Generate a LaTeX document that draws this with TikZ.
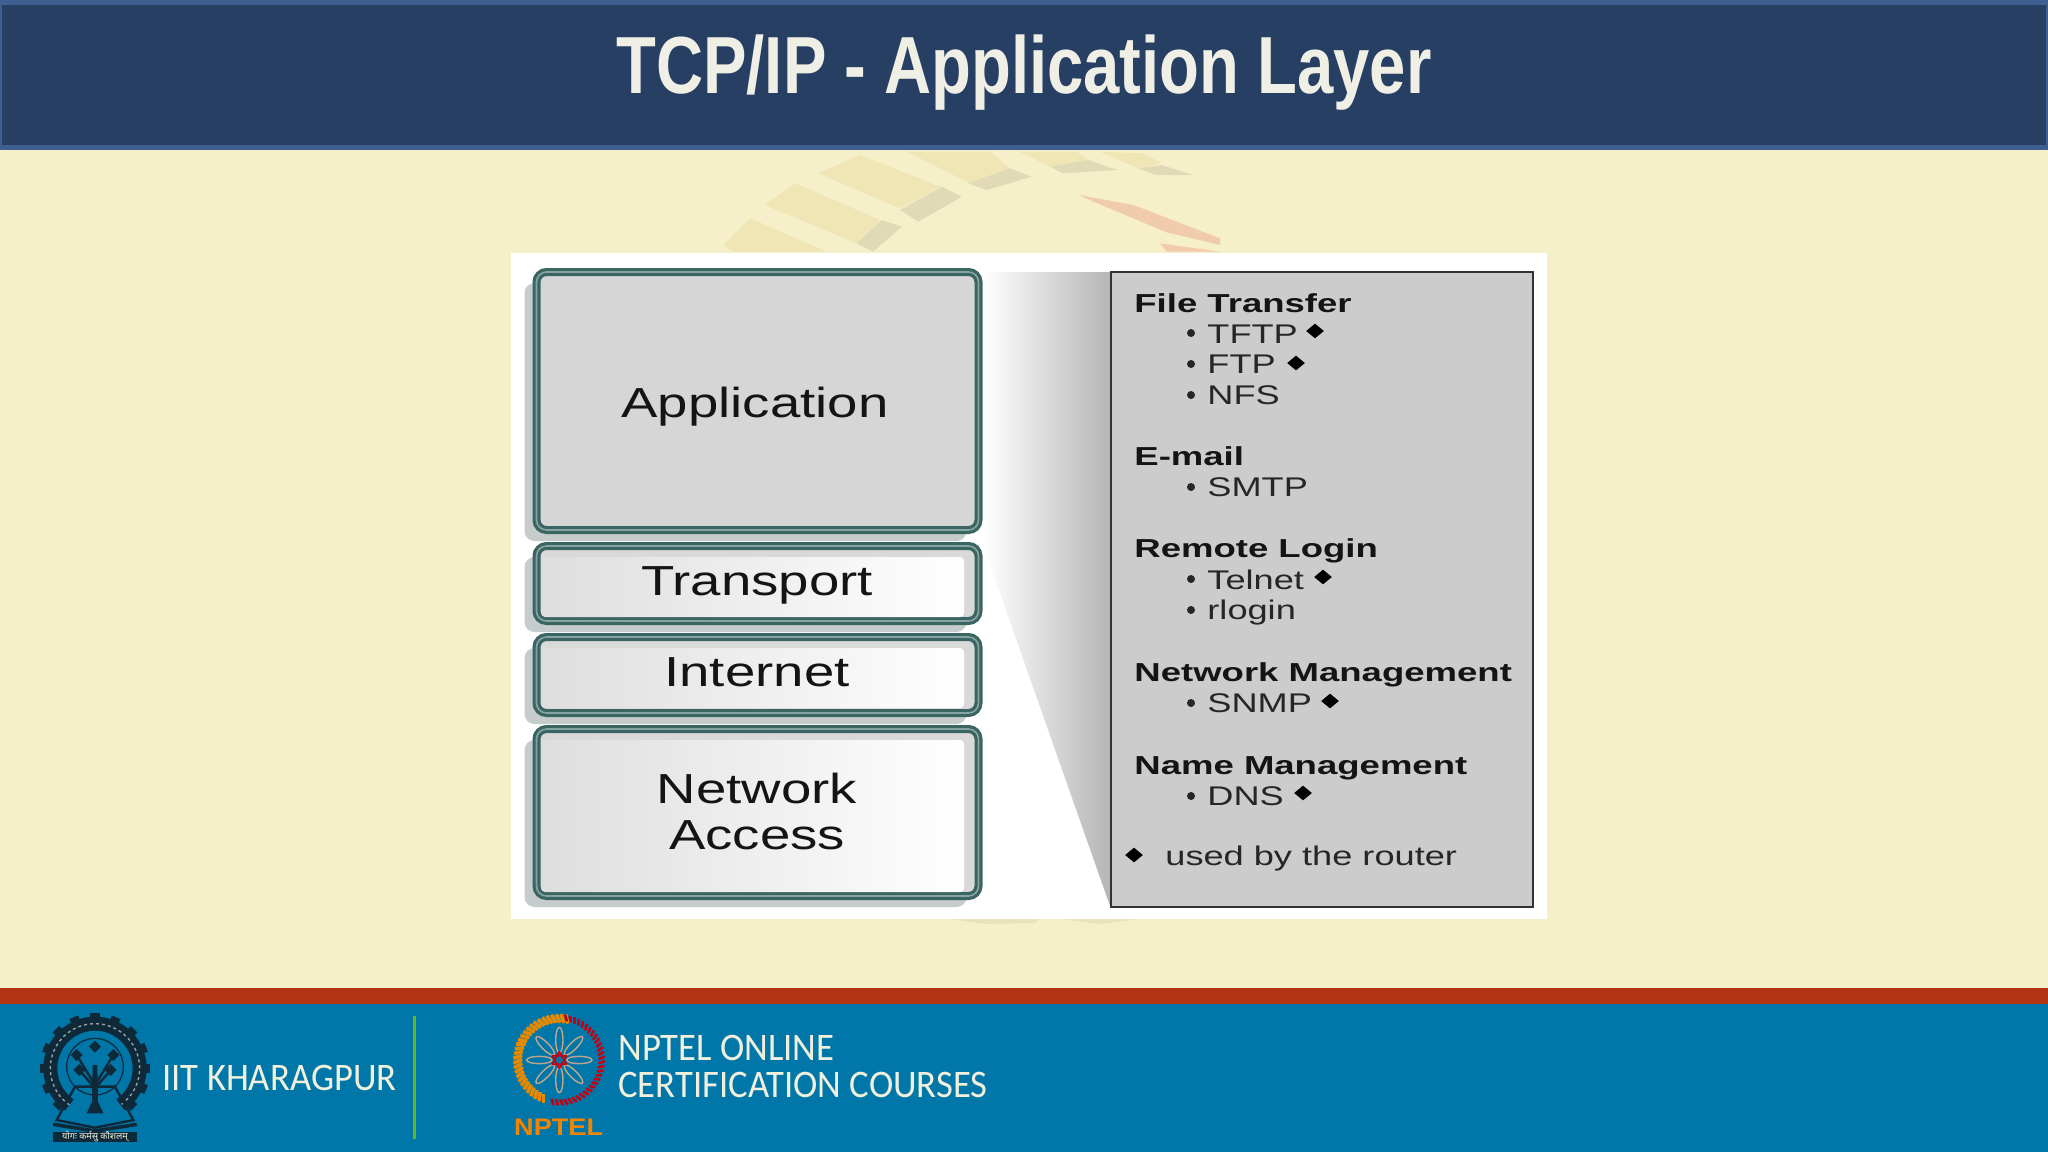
\documentclass[tikz,border=0pt]{standalone}
\usepackage{fontspec}
\usetikzlibrary{shapes.geometric,shadows}
\setmainfont{Liberation Sans}
\newfontfamily\titlefont[FakeStretch=0.805]{Liberation Sans}
\newfontfamily\layerfont[FakeStretch=1.30]{Liberation Sans}
\newfontfamily\listfont[FakeStretch=1.34]{Liberation Sans}
\newfontfamily\listbold[FakeStretch=1.405]{Liberation Sans Bold}
\newfontfamily\logobold[FakeStretch=1.13]{Liberation Sans Bold}
\newfontfamily\footfont[FakeStretch=0.94]{Carlito}
\newfontfamily\devfont[Script=Devanagari]{Noto Sans}
\definecolor{slidebg}{HTML}{F5F0C9}
\definecolor{headbg}{HTML}{263F63}
\definecolor{headedge}{HTML}{3D6090}
\definecolor{footred}{HTML}{B23412}
\definecolor{footblue}{HTML}{0077A8}
\definecolor{cream}{HTML}{F0F0DC}
\definecolor{titlecol}{HTML}{EFEFE6}
\definecolor{boxteal}{HTML}{3A6562}
\definecolor{boxmid}{HTML}{86A5A2}
\definecolor{boxshade}{HTML}{C6CBCB}
\definecolor{logodark}{HTML}{0E2A3A}
\definecolor{wmtan}{HTML}{F0E5B4}
\definecolor{wmgrey}{HTML}{E0DBB6}
\definecolor{wmsmudge}{HTML}{E8E3BC}
\definecolor{wmred}{HTML}{F0CBAC}
\tikzset{
  layerbox/.style={rectangle, rounded corners=5pt, draw=boxteal, line width=1.6pt, double=boxmid,
    double distance=.8pt, fill=#1, minimum width=221pt, inner sep=0pt,
    general shadow={fill=boxshade, shadow xshift=-6pt, shadow yshift=-5.5pt}},
  layerface/.style={rectangle, rounded corners=2pt, left color=gray!26, middle color=gray!6,
    right color=white, minimum width=211.5pt, inner sep=0pt},
  layertext/.style={font=\layerfont\fontsize{21}{23}\selectfont, text=black!92, inner sep=0pt, anchor=base, align=center},
  headtext/.style={font=\listbold\fontsize{13}{15}\selectfont, text=black!92, inner sep=0pt, anchor=base west},
  subtext/.style={font=\listfont\fontsize{13.5}{15}\selectfont, text=black!85, inner sep=0pt, anchor=base west},
  bulletmark/.style={circle, fill=black!85, inner sep=0pt, minimum size=4pt},
  routermark/.style={diamond, fill=black, inner sep=0pt, minimum width=9pt, minimum height=7.5pt},
  foottext/.style={font=\footfont\fontsize{19.5}{21}\selectfont, text=cream, inner sep=0pt, anchor=base west},
}
\begin{document}
\begin{tikzpicture}[x=.5pt,y=-.5pt]
  \useasboundingbox (0,0) rectangle (2048,1152);
  % slide background
  \fill[slidebg] (0,0) rectangle (2048,1152);

  % watermark behind the figure
  \begin{scope}[shift={(700,145)},scale=1/3]
    \fill[wmtan] (355,85) -- (480,30) -- (720,125) -- (600,190) -- cycle;
    \fill[wmgrey] (600,195) -- (725,125) -- (785,155) -- (655,230) -- cycle;
    \fill[wmtan] (195,180) -- (285,115) -- (540,225) -- (470,295) -- cycle;
    \fill[wmgrey] (470,295) -- (545,225) -- (605,245) -- (520,320) -- cycle;
    \fill[wmtan] (70,300) -- (150,220) -- (380,320) -- (100,320) -- cycle;
    \fill[wmtan] (620,20) -- (870,20) -- (930,70) -- (810,115) -- cycle;
    \fill[wmgrey] (805,115) -- (930,70) -- (995,95) -- (860,135) -- cycle;
    \fill[wmtan] (960,20) -- (1130,20) -- (1165,45) -- (1050,65) -- cycle;
    \fill[wmgrey] (1050,65) -- (1165,45) -- (1250,75) -- (1090,85) -- cycle;
    \fill[wmtan] (1200,20) -- (1330,25) -- (1385,55) -- (1315,70) -- cycle;
    \fill[wmgrey] (1315,70) -- (1385,60) -- (1480,90) -- (1370,90) -- cycle;
    \fill[wmred] (1135,150) -- (1300,180) -- (1560,280) -- (1560,300) -- (1400,262) -- (1240,195) -- cycle;
    \fill[wmred] (1380,295) -- (1560,320) -- (1400,320) -- cycle;
  \end{scope}
  \fill[wmsmudge] (950,919) -- (1040,919) -- (1035,923) -- (985,924) -- cycle;
  \fill[wmsmudge] (1060,919) -- (1140,919) -- (1100,924) -- cycle;

  % header and footer
  \fill[headedge] (0,0) rectangle (2048,150);
  \fill[headbg] (2,5) rectangle (2046,145);
  \node[font=\titlefont\bfseries\fontsize{40.5}{44}\selectfont, text=titlecol, inner sep=0pt, anchor=base] (title) at (1024,93) {TCP/IP - Application Layer};
  \fill[footred] (0,988) rectangle (2048,1004);
  \fill[footblue] (0,1004) rectangle (2048,1152);

  % figure
  \fill[white] (511,253) rectangle (1547,919);
  \shade[left color=white, middle color=gray!24, right color=gray!58] (983,272) -- (1110,272) -- (1110,906) -- (983,545) -- cycle;

  \node[layerbox=gray!32, minimum height=129pt] (appbox) at (757.5,401) {};
  \node[layerbox=gray!30, minimum height=37.5pt] (transbox) at (757.5,583.5) {};
  \node[layerbox=gray!30, minimum height=38pt] (netbox) at (757.5,675) {};
  \node[layerbox=gray!30, minimum height=83.5pt] (accbox) at (757.5,812.5) {};
  \node[layerface, minimum height=30pt] (transface) at (752.5,587) {};
  \node[layerface, minimum height=30pt] (netface) at (752.5,678) {};
  \node[layerface, minimum height=76pt] (accface) at (752.5,816) {};

  \node[layertext] (app) at (755,417) {Application};
  \node[layertext] (trans) at (757,595) {Transport};
  \node[layertext] (inet) at (757,686) {Internet};
  \node[layertext] (netw) at (757,803) {Network};
  \node[layertext] (acc) at (757,849) {Access};

  % protocol list
  \node[rectangle, draw=black!80, line width=1.3pt, fill=gray!40, minimum width=211pt, minimum height=317.5pt, inner sep=0pt] (panel) at (1322,589.5) {};

  \node[headtext] (ft) at (1134,312) {File Transfer};
  \node[bulletmark] (b1) at (1191,333) {};
  \node[subtext] (tftp) at (1207,343) {TFTP};
  \node[routermark] (d1) at (1315,331) {};
  \node[bulletmark] (b2) at (1191,364) {};
  \node[subtext] (ftp) at (1207,373) {FTP};
  \node[routermark] (d2) at (1296,363) {};
  \node[bulletmark] (b3) at (1191,395) {};
  \node[subtext] (nfs) at (1207,404) {NFS};

  \node[headtext] (em) at (1134,465) {E-mail};
  \node[bulletmark] (b4) at (1191,487) {};
  \node[subtext] (smtp) at (1207,496) {SMTP};

  \node[headtext] (rl) at (1134,557) {Remote Login};
  \node[bulletmark] (b5) at (1191,579) {};
  \node[subtext] (tel) at (1207,589) {Telnet};
  \node[routermark] (d3) at (1323,577) {};
  \node[bulletmark] (b6) at (1191,610) {};
  \node[subtext] (rlog) at (1207,619) {rlogin};

  \node[headtext] (nm) at (1134,681) {Network Management};
  \node[bulletmark] (b7) at (1191,703) {};
  \node[subtext] (snmp) at (1207,712) {SNMP};
  \node[routermark] (d4) at (1330,701) {};

  \node[headtext] (dn) at (1134,774) {Name Management};
  \node[bulletmark] (b8) at (1191,796) {};
  \node[subtext] (dns) at (1207,805) {DNS};
  \node[routermark] (d5) at (1303,793) {};

  \node[routermark] (d6) at (1134,855) {};
  \node[subtext] (used) at (1165,865) {used by the router};

  % footer logos and texts
  \begin{scope}[shift={(20,1005)},scale=1/3]
    \foreach \a in {-135,-112.5,...,135}
      \fill[logodark, rotate around={\a:(225,190)}] (211,24) rectangle (239,70);
    \draw[logodark, line width=7pt] (225,190) ++(125:134) arc (125:415:134);
    \draw[cream!60!logodark, line width=.7pt, dash pattern=on 1.5pt off 1.5pt] (225,190) ++(125:134) arc (125:415:134);
    \draw[logodark, line width=.6pt] (225,185) circle (85);
    \fill[logodark] (218,180) -- (232,180) -- (234,290) -- (250,325) -- (200,325) -- (216,290) -- cycle;
    \draw[logodark, line width=1.2pt] (225,240) -- (170,150) (225,240) -- (280,150) (225,250) -- (178,195) (225,250) -- (272,195);
    \foreach \lx/\ly in {225/125,170/150,280/150,178/195,272/195}
      \fill[logodark] (\lx,\ly) ++(0,-18) -- ++(18,18) -- ++(-18,18) -- ++(-18,-18) -- cycle;
    \draw[logodark, line width=1.2pt] (165,245) -- (285,245) -- (340,345) -- (225,368) -- (110,345) -- cycle;
    \draw[logodark, line width=1.8pt] (100,358) -- (225,378) -- (350,358);
    \fill[logodark] (100,380) rectangle (350,412);
    \node[font=\devfont\fontsize{4.6}{5}\selectfont, text=cream, inner sep=0pt] (motto) at (225,396) {योगः कर्मसु कौशलम्};
  \end{scope}
  \node[foottext] (iit) at (162,1090) {IIT KHARAGPUR};
  \fill[green!55!yellow!70!black!90] (412.5,1016) rectangle (415.5,1139);

  \begin{scope}[shift={(500,1005)},scale=1/3]
    \foreach \a in {115,121,...,284}
      \draw[orange!80!yellow!90!black, line width=1.8pt] (178,165) ++(\a:112) -- ++(\a-25:28);
    \foreach \a in {-79,-73,...,101}
      \draw[red!65!purple!85!black, line width=1.3pt] (178,165) ++(\a:118) -- ++(\a-25:20);
    \foreach \a in {0,45,...,315}
      \draw[gray!70!orange!70, line width=.7pt, rotate around={\a:(178,165)}] (238,165) ellipse (38 and 11);
    \foreach \a in {0,60,...,300}
      \draw[red!70!purple!85!black, line width=.8pt, rotate around={\a:(178,165)}] (178,140) -- (200,178);
    \node[font=\logobold\fontsize{12}{14}\selectfont, text=orange!90!yellow!95!black, inner sep=0pt] (nptel) at (176,366) {NPTEL};
  \end{scope}
  \node[foottext] (online) at (618,1060) {NPTEL ONLINE};
  \node[foottext] (cert) at (618,1097) {CERTIFICATION COURSES};
\end{tikzpicture}
\end{document}
